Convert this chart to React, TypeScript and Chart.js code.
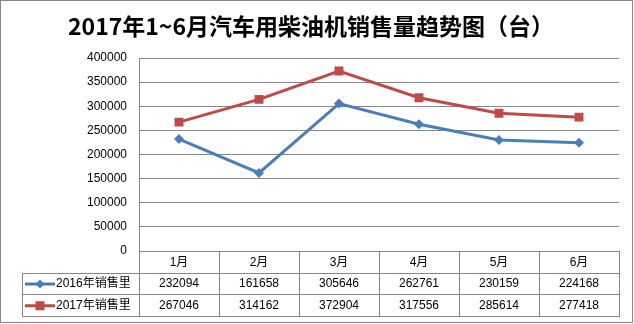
import React, { useEffect, useRef } from "react";
import { Chart, registerables } from "chart.js";

Chart.register(...registerables);

const TITLE = "2017年1~6月汽车用柴油机销售量趋势图（台）";
const categories = ["1月", "2月", "3月", "4月", "5月", "6月"];
const seriesNames = ["2016年销售里", "2017年销售里"];
const sales2016 = [232094, 161658, 305646, 262761, 230159, 224168];
const sales2017 = [267046, 314162, 372904, 317556, 285614, 277418];
const yMax = 400000;
const yStep = 50000;

const BLUE = "#4A7EBB";
const RED = "#BE4B48";
const GRID = "#868686";
const FONT = '"Liberation Sans", "Noto Sans CJK SC", sans-serif';

const tablePlugin = {
  id: "tablePlugin",
  afterDraw(chart: any) {
    const ctx = chart.ctx;
    const area = chart.chartArea;
    const xs = chart.scales.x;
    const n = categories.length;
    const colW = (area.right - area.left) / n;
    const top = Math.round(area.bottom);
    const rh = 21.7;
    const legendLeft = 22;
    ctx.save();
    // outer border
    ctx.strokeStyle = GRID;
    ctx.lineWidth = 1;
    ctx.strokeRect(0.5, 0.5, 632, 322);
    // title
    ctx.fillStyle = "#000";
    ctx.font = 'bold 23px "Noto Sans CJK SC", sans-serif';
    ctx.textAlign = "center";
    ctx.textBaseline = "middle";
    ctx.fillText(TITLE, 311, 26);

    // table lines
    ctx.strokeStyle = GRID;
    ctx.lineWidth = 1;
    ctx.beginPath();
    for (let i = 0; i <= n; i++) {
      const x = Math.round(area.left + i * colW) + 0.5;
      ctx.moveTo(x, top);
      ctx.lineTo(x, Math.round(top + 3 * rh) + 0.5);
    }
    const lx = legendLeft + 0.5;
    ctx.moveTo(lx, Math.round(top + rh) + 0.5);
    ctx.lineTo(lx, Math.round(top + 3 * rh) + 0.5);
    for (let r = 1; r <= 3; r++) {
      const y = Math.round(top + r * rh) + 0.5;
      ctx.moveTo(legendLeft, y);
      ctx.lineTo(Math.round(area.right) + 1, y);
    }
    ctx.stroke();

    ctx.fillStyle = "#000";
    ctx.font = "12px " + FONT;
    ctx.textAlign = "center";
    ctx.textBaseline = "middle";
    categories.forEach((c, i) => {
      const cx = xs.getPixelForValue(i);
      ctx.fillText(c, cx, top + rh * 0.5 + 0.5);
      ctx.fillText(String(sales2016[i]), cx, top + rh * 1.5 + 0.5);
      ctx.fillText(String(sales2017[i]), cx, top + rh * 2.5 + 0.5);
    });

    // legend keys
    const keys = [
      { name: seriesNames[0], color: BLUE, marker: "diamond" },
      { name: seriesNames[1], color: RED, marker: "square" },
    ];
    keys.forEach((k, j) => {
      const cy = top + rh * (1.5 + j) + 0.5;
      ctx.strokeStyle = k.color;
      ctx.lineWidth = 3;
      ctx.beginPath();
      ctx.moveTo(25, cy);
      ctx.lineTo(55, cy);
      ctx.stroke();
      ctx.fillStyle = k.color;
      if (k.marker === "diamond") {
        ctx.beginPath();
        ctx.moveTo(40, cy - 4.5);
        ctx.lineTo(44.5, cy);
        ctx.lineTo(40, cy + 4.5);
        ctx.lineTo(35.5, cy);
        ctx.closePath();
        ctx.fill();
      } else {
        ctx.fillRect(35.5, cy - 4.5, 9, 9);
      }
      ctx.fillStyle = "#000";
      ctx.textAlign = "left";
      ctx.font = "12px " + FONT;
      ctx.fillText(k.name, 56, cy);
    });
    ctx.restore();
  },
};

export default function App() {
  const ref = useRef<HTMLCanvasElement>(null);
  useEffect(() => {
    document.body.style.margin = "0";
    const chart = new Chart(ref.current as HTMLCanvasElement, {
      type: "line",
      data: {
        labels: categories,
        datasets: [
          {
            label: seriesNames[0],
            data: sales2016,
            borderColor: BLUE,
            backgroundColor: BLUE,
            borderWidth: 3,
            pointStyle: "rectRot",
            pointRadius: 5,
            pointBorderWidth: 0,
            tension: 0,
          },
          {
            label: seriesNames[1],
            data: sales2017,
            borderColor: RED,
            backgroundColor: RED,
            borderWidth: 3,
            pointStyle: "rect",
            pointRadius: 6.3,
            pointBorderWidth: 0,
            tension: 0,
          },
        ],
      },
      options: {
        animation: false,
        responsive: false,
        maintainAspectRatio: false,
        layout: { padding: { top: 58, bottom: 73, right: 15, left: 0 } },
        plugins: {
          legend: { display: false },
          title: { display: false },
          tooltip: { enabled: false },
        },
        scales: {
          x: {
            type: "category",
            display: false,
            offset: true,
          },
          y: {
            min: 0,
            max: yMax,
            afterFit: (s: any) => {
              s.width = 139;
            },
            ticks: {
              stepSize: yStep,
              padding: 12,
              color: "#000",
              font: { family: FONT, size: 12 },
              callback: (v: any) => String(v),
            },
            grid: {
              color: GRID,
              drawTicks: false,
              lineWidth: 1,
            },
            border: { display: true, color: GRID, width: 1 },
          },
        },
      },
      plugins: [tablePlugin],
    });
    return () => chart.destroy();
  }, []);
  return (
    <div style={{ position: "relative", width: 634, height: 324, background: "#fff" }}>
      <canvas ref={ref} width={634} height={324} style={{ display: "block" }} />
    </div>
  );
}
